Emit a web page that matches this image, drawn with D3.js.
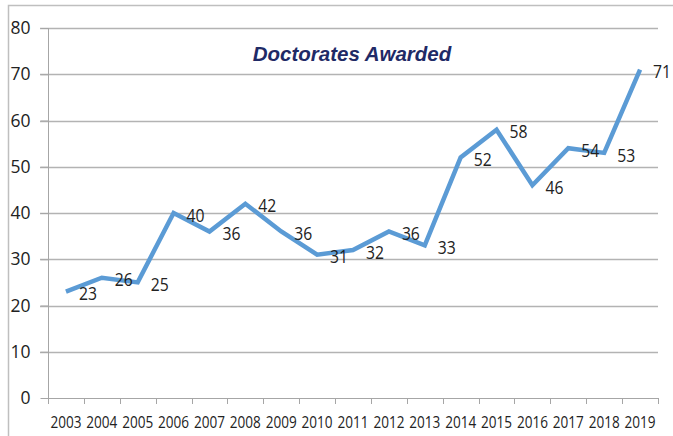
<!DOCTYPE html>
<html><head><meta charset="utf-8">
<script src="https://cdn.jsdelivr.net/npm/d3@7"></script>
<style>
html,body{margin:0;padding:0;background:#fff;}
</style></head>
<body><svg id="c" width="673" height="436"></svg>
<script>
const years = ["2003","2004","2005","2006","2007","2008","2009","2010","2011","2012","2013","2014","2015","2016","2017","2018","2019"];
const doctorates = [23,26,25,40,36,42,36,31,32,36,33,52,58,46,54,53,71];
const yTicks = [0,10,20,30,40,50,60,70,80];
const title = "Doctorates Awarded";

(function(){
const svg = d3.select("#c");
const mLeft = 48, mRight = 658, mTop = 28, mBottom = 398;
const bodyFont = "'Open Sans',sans-serif";

svg.append("rect").attr("x",8.5).attr("y",5.5).attr("width",700).attr("height",500)
  .attr("fill","none").attr("stroke","#bfbfbf").attr("stroke-width",1.5);

const x = d3.scaleBand().domain(years).range([mLeft,mRight]);
const y = d3.scaleLinear().domain([0,80]).range([mBottom,mTop]);

// gridlines
svg.append("g").selectAll("line").data(yTicks.filter(d=>d>0)).join("line")
  .attr("x1",40).attr("x2",mRight).attr("y1",d=>Math.round(y(d))+0.5).attr("y2",d=>Math.round(y(d))+0.5)
  .attr("stroke","#b3b3b3").attr("stroke-width",1.5);

// y axis
const ya = svg.append("g").attr("transform",`translate(${mLeft+0.5},0)`)
  .call(d3.axisLeft(y).tickValues(yTicks).tickSize(8).tickPadding(10));
ya.select(".domain").attr("stroke","#a6a6a6").attr("d",`M0,${mTop}V${mBottom}`);
ya.selectAll(".tick line").attr("stroke","#a6a6a6");
ya.selectAll("text").style("font-size","17.5px").style("font-family",bodyFont)
  .attr("fill","#222").attr("x",-18);

// x axis
const xa = svg.append("g").attr("transform",`translate(0,${mBottom+0.5})`)
  .call(d3.axisBottom(x).tickSizeOuter(0).tickSize(0).tickPadding(18));
xa.select(".domain").attr("stroke","#a6a6a6").attr("d",`M${mLeft},0H${mRight}`);
xa.selectAll("text").style("font-size","16px").style("font-family",bodyFont)
  .attr("fill","#222").attr("textLength",31).attr("lengthAdjust","spacingAndGlyphs");
// category boundary ticks
const bounds = years.map(d=>x(d)).concat([mRight]);
svg.append("g").selectAll("line").data(bounds).join("line")
  .attr("x1",d=>Math.round(d)+0.5).attr("x2",d=>Math.round(d)+0.5)
  .attr("y1",mBottom).attr("y2",mBottom+6).attr("stroke","#a6a6a6");

// line
const cx = d=>x(d)+x.bandwidth()/2;
const line = d3.line().x((d,i)=>cx(years[i])).y(d=>y(d));
svg.append("path").datum(doctorates).attr("d",line)
  .attr("fill","none").attr("stroke","#5b9bd5").attr("stroke-width",4.5)
  .attr("stroke-linejoin","miter");

// labels
svg.append("g").selectAll("text").data(doctorates).join("text")
  .attr("x",(d,i)=>cx(years[i])+13).attr("y",d=>y(d)+4)
  .attr("dominant-baseline","middle").style("font-size","17.5px").style("font-family",bodyFont)
  .attr("textLength",18).attr("lengthAdjust","spacingAndGlyphs")
  .attr("fill","#222").text(d=>d);

// title
svg.append("text").attr("x",352).attr("y",56).attr("text-anchor","middle")
  .attr("dominant-baseline","middle")
  .style("font-family","'Liberation Sans',Arial,sans-serif").style("font-weight","bold")
  .style("font-style","italic").style("font-size","20.5px")
  .attr("fill","#1f2a66").text(title);
})();
</script></body></html>
